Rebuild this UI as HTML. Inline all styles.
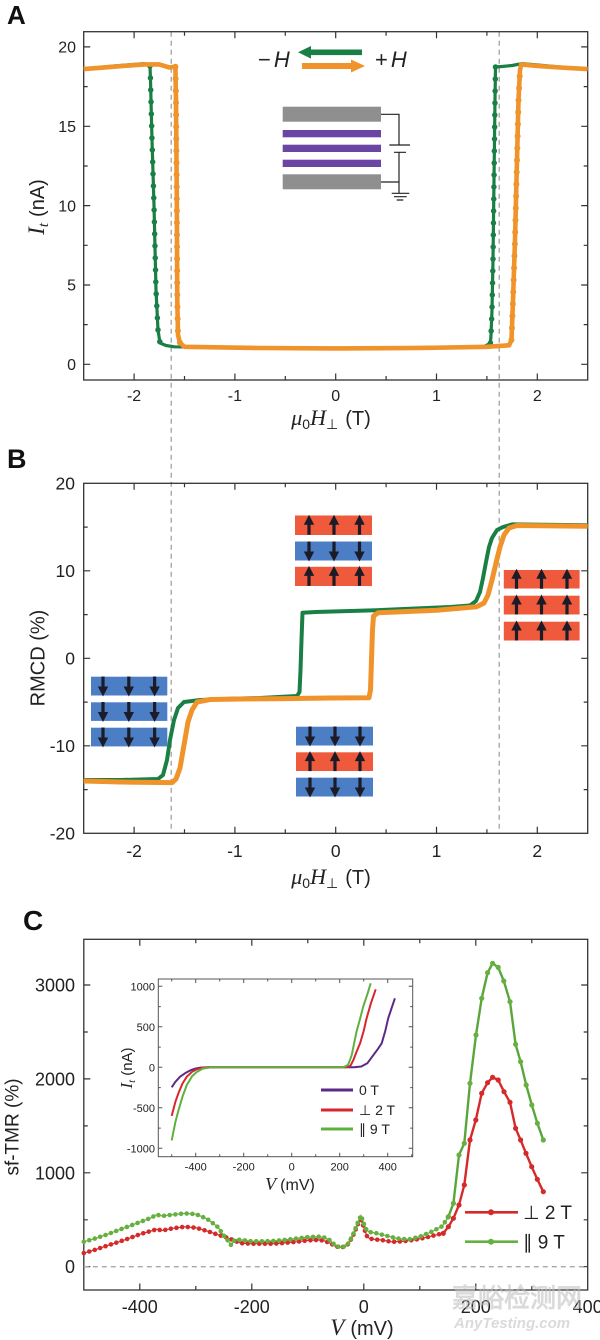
<!DOCTYPE html>
<html><head><meta charset="utf-8"><style>
html,body{margin:0;padding:0;background:#fff;}
svg{display:block;}
text{font-family:"Liberation Sans","DejaVu Sans",sans-serif;fill:#222;}
</style></head><body>
<svg width="600" height="1340" viewBox="0 0 600 1340" xmlns="http://www.w3.org/2000/svg">
<defs>
<g id="au"><rect x="-1.6" y="-2" width="3.2" height="11.5" fill="#1c1c28"/><polygon points="0,-10.5 -5.2,-0.5 5.2,-0.5" fill="#1c1c28"/></g>
</defs>
<rect width="600" height="1340" fill="#fff"/>

<!-- dashed vertical guides -->
<path d="M171.2,31.7 V833.3 M499.2,31.7 V833.3" stroke="#9a9a9a" stroke-width="1.2" stroke-dasharray="5 4" fill="none"/>

<!-- ================= PANEL A ================= -->
<text x="7" y="24" font-size="26" font-weight="bold" style="fill:#111">A</text>
<rect x="83.7" y="31.7" width="504" height="348.3" fill="none" stroke="#333" stroke-width="1.3"/>
<path d="M83.7,364.3h6.5M83.7,285h6.5M83.7,205.6h6.5M83.7,126.3h6.5M83.7,46.9h6.5M83.7,324.6h4M83.7,245.3h4M83.7,166h4M83.7,86.6h4
M587.7,364.3h-6.5M587.7,285h-6.5M587.7,205.6h-6.5M587.7,126.3h-6.5M587.7,46.9h-6.5M587.7,324.6h-4M587.7,245.3h-4M587.7,166h-4M587.7,86.6h-4
M134.1,380v-6.5M234.9,380v-6.5M335.7,380v-6.5M436.5,380v-6.5M537.3,380v-6.5M184.5,380v-4M285.3,380v-4M386.1,380v-4M486.9,380v-4
M134.1,31.7v6.5M234.9,31.7v6.5M335.7,31.7v6.5M436.5,31.7v6.5M537.3,31.7v6.5M184.5,31.7v4M285.3,31.7v4M386.1,31.7v4M486.9,31.7v4" stroke="#333" stroke-width="1.2"/>
<g font-size="16" text-anchor="end">
<text x="76" y="370">0</text><text x="76" y="290.7">5</text><text x="76" y="211.3">10</text><text x="76" y="132">15</text><text x="76" y="52.6">20</text>
</g>
<g font-size="16" text-anchor="middle">
<text x="134.1" y="401">-2</text><text x="234.9" y="401">-1</text><text x="335.7" y="401">0</text><text x="436.5" y="401">1</text><text x="537.3" y="401">2</text>
</g>
<text x="331" y="425" text-anchor="middle" font-size="20"><tspan font-family="Liberation Serif" font-style="italic" font-size="22">μ</tspan><tspan font-size="14" dy="4">0</tspan><tspan font-family="Liberation Serif" font-style="italic" font-size="22" dy="-4">H</tspan><tspan font-size="14" dy="4">⊥</tspan><tspan dy="-4" dx="7">(T)</tspan></text>
<text transform="translate(44,207) rotate(-90)" text-anchor="middle" font-size="20"><tspan font-family="Liberation Serif" font-style="italic" font-size="23">I</tspan><tspan font-family="Liberation Serif" font-style="italic" font-size="15" dy="4">t</tspan><tspan dy="-4" dx="6">(nA)</tspan></text>

<!-- A curves -->
<path d="M587.7,69.1 L560,67 L537.3,65 L522.2,63.6 L512.1,65.5 L502,66.5 L495.5,67 L495,100 L494,180 L493,260 L492,310 L491,335 L490.4,343.3 L484,346.5 L476.8,346.8 L335.7,348.4 L174.4,346.8 L166,345.5 L160,343 L158,330 L156,290 L154,205 L152,140 L150.5,80 L150,66 L144.2,63.6 L113.9,66 L83.7,69.1" fill="none" stroke="#1a7f45" stroke-width="3.2" stroke-linejoin="round"/>
<path d="M150,66 L150.5,80 L152,140 L154,205 L156,290 L158,330 L160,343 L166,345.5 M495.5,67 L495,100 L494,180 L493,260 L492,310 L491,335 L490.4,343.3" fill="none" stroke="#1a7f45" stroke-width="5.5" stroke-linecap="round" stroke-dasharray="0 12"/>
<path d="M83.7,69.1 L113.9,66.7 L144.2,64.4 L159.3,64.4 L169.4,67.5 L175.4,66.7 L176,100 L176.8,200 L177.3,300 L178,335 L180,343 L184.5,346.8 L260,348 L335.7,348.4 L420,348 L486.9,346.8 L509.1,345.3 L511.5,340 L513,300 L515,240 L517,160 L518.5,100 L520,70 L521.2,64.4 L537.3,66 L560,67.5 L587.7,69.1" fill="none" stroke="#f0932b" stroke-width="4.6" stroke-linejoin="round"/>
<path d="M175.4,66.7 L176,100 L176.8,200 L177.3,300 L178,335 L180,343 M511.5,340 L513,300 L515,240 L517,160 L518.5,100 L520,70" fill="none" stroke="#f0932b" stroke-width="6" stroke-linecap="round" stroke-dasharray="0 12"/>

<!-- A legend arrows -->
<text x="258" y="67" font-family="Liberation Serif" font-size="22" style="fill:#222">−<tspan font-style="italic" dx="3">H</tspan></text>
<text x="375" y="67" font-family="Liberation Serif" font-size="22" style="fill:#222">+<tspan font-style="italic" dx="3">H</tspan></text>
<rect x="309" y="49.5" width="53" height="5.6" fill="#1a7f45"/>
<polygon points="298,52.3 311,46 311,58.6" fill="#1a7f45"/>
<rect x="302" y="63" width="50" height="6" fill="#f0932b"/>
<polygon points="365,66 351,59.5 351,72.5" fill="#f0932b"/>
<!-- schematic -->
<rect x="282.7" y="106.7" width="98.3" height="15" fill="#8f8f8f"/>
<rect x="282.7" y="130" width="98.3" height="7.3" fill="#6a45a3"/>
<rect x="282.7" y="144.7" width="98.3" height="7.3" fill="#6a45a3"/>
<rect x="282.7" y="159.7" width="98.3" height="7.3" fill="#6a45a3"/>
<rect x="282.7" y="174.3" width="98.3" height="15" fill="#8f8f8f"/>
<path d="M381,114.3H399V145M389.3,145H410M394,152.3H406M399,152.3V193.3M381,182H399M391.7,193.3H409.3M394,196.7H406.7M396.7,200H403.3" stroke="#222" stroke-width="1.2" fill="none"/>

<!-- ================= PANEL B ================= -->
<text x="7" y="468" font-size="27" font-weight="bold" style="fill:#111">B</text>
<rect x="83.7" y="483.3" width="504" height="350" fill="none" stroke="#333" stroke-width="1.3"/>
<path d="M83.7,745.8h6.5M83.7,658.3h6.5M83.7,570.8h6.5M83.7,789.6h4M83.7,702.1h4M83.7,614.6h4M83.7,527.1h4
M587.7,745.8h-6.5M587.7,658.3h-6.5M587.7,570.8h-6.5M587.7,789.6h-4M587.7,702.1h-4M587.7,614.6h-4M587.7,527.1h-4
M134.1,833.3v-6.5M234.9,833.3v-6.5M335.7,833.3v-6.5M436.5,833.3v-6.5M537.3,833.3v-6.5M184.5,833.3v-4M285.3,833.3v-4M386.1,833.3v-4M486.9,833.3v-4
M134.1,483.3v6.5M234.9,483.3v6.5M335.7,483.3v6.5M436.5,483.3v6.5M537.3,483.3v6.5M184.5,483.3v4M285.3,483.3v4M386.1,483.3v4M486.9,483.3v4" stroke="#333" stroke-width="1.2"/>
<g font-size="17.5" text-anchor="end">
<text x="75" y="489.5">20</text><text x="75" y="577">10</text><text x="75" y="664.5">0</text><text x="75" y="752">-10</text><text x="75" y="839.5">-20</text>
</g>
<g font-size="17.5" text-anchor="middle">
<text x="134.1" y="857">-2</text><text x="234.9" y="857">-1</text><text x="335.7" y="857">0</text><text x="436.5" y="857">1</text><text x="537.3" y="857">2</text>
</g>
<text x="331" y="884" text-anchor="middle" font-size="20"><tspan font-family="Liberation Serif" font-style="italic" font-size="22">μ</tspan><tspan font-size="14" dy="4">0</tspan><tspan font-family="Liberation Serif" font-style="italic" font-size="22" dy="-4">H</tspan><tspan font-size="14" dy="4">⊥</tspan><tspan dy="-4" dx="7">(T)</tspan></text>
<text transform="translate(44.5,658) rotate(-90)" text-anchor="middle" font-size="20">RMCD (%)</text>

<!-- B curves -->
<path d="M587.7,525.3 L512.1,524.4 L503,527 L497,530 L492,538 L489,547 L486,562 L483,578 L480,592 L476,601 L470,605.5 L450,607 L376,610.2 L315.5,612 L302.5,612.8 L301.5,640 L300.5,670 L299.5,692 L297,696 L260,698 L234.9,698.6 L200,700 L184,702 L178,708 L174,720 L170,740 L167,760 L163,775 L158,779 L120,780 L83.7,780" fill="none" stroke="#1a7f45" stroke-width="4" stroke-linejoin="round"/>
<path d="M83.7,781 L120,782 L160,782.5 L172,782.6 L176,779 L180,768 L184,745 L188,722 L192,710 L197,702 L210,699.5 L240,699 L285,698.6 L330,698 L369,697.7 L370.5,690 L371.5,660 L372.5,630 L373.5,616 L378,612.8 L436.5,610.2 L476.8,606.7 L484,603 L488,595 L492,580 L496,563 L500,547 L504,535 L509,528 L517,525.5 L587.7,526.2" fill="none" stroke="#f0932b" stroke-width="5" stroke-linejoin="round"/>

<!-- spin boxes: middle top -->
<rect x="295" y="515.5" width="77" height="19.5" fill="#ef5a3d"/>
<rect x="295" y="541.5" width="77" height="19" fill="#4b7ec5"/>
<rect x="295" y="566.8" width="77" height="19.2" fill="#ef5a3d"/>
<use href="#au" transform="translate(309,525.3)"/><use href="#au" transform="translate(334,525.3)"/><use href="#au" transform="translate(359.5,525.3)"/>
<use href="#au" transform="translate(309,551) scale(1,-1)"/><use href="#au" transform="translate(334,551) scale(1,-1)"/><use href="#au" transform="translate(359.5,551) scale(1,-1)"/>
<use href="#au" transform="translate(309,576.4)"/><use href="#au" transform="translate(334,576.4)"/><use href="#au" transform="translate(359.5,576.4)"/>
<!-- middle bottom -->
<rect x="296" y="726.7" width="77" height="18.8" fill="#4b7ec5"/>
<rect x="296" y="752.3" width="77" height="18.7" fill="#ef5a3d"/>
<rect x="296" y="777.7" width="77" height="18.8" fill="#4b7ec5"/>
<use href="#au" transform="translate(310,736) scale(1,-1)"/><use href="#au" transform="translate(335,736) scale(1,-1)"/><use href="#au" transform="translate(360,736) scale(1,-1)"/>
<use href="#au" transform="translate(310,761.6)"/><use href="#au" transform="translate(335,761.6)"/><use href="#au" transform="translate(360,761.6)"/>
<use href="#au" transform="translate(310,787) scale(1,-1)"/><use href="#au" transform="translate(335,787) scale(1,-1)"/><use href="#au" transform="translate(360,787) scale(1,-1)"/>
<!-- left -->
<rect x="91" y="676.7" width="76.3" height="18.8" fill="#4b7ec5"/>
<rect x="91" y="702.3" width="76.3" height="18.6" fill="#4b7ec5"/>
<rect x="91" y="727.7" width="76.3" height="18.7" fill="#4b7ec5"/>
<use href="#au" transform="translate(103,686) scale(1,-1)"/><use href="#au" transform="translate(128.8,686) scale(1,-1)"/><use href="#au" transform="translate(154.6,686) scale(1,-1)"/>
<use href="#au" transform="translate(103,711.5) scale(1,-1)"/><use href="#au" transform="translate(128.8,711.5) scale(1,-1)"/><use href="#au" transform="translate(154.6,711.5) scale(1,-1)"/>
<use href="#au" transform="translate(103,737) scale(1,-1)"/><use href="#au" transform="translate(128.8,737) scale(1,-1)"/><use href="#au" transform="translate(154.6,737) scale(1,-1)"/>
<!-- right -->
<rect x="503.8" y="570" width="75.8" height="18.5" fill="#ef5a3d"/>
<rect x="503.8" y="595.7" width="75.8" height="18.8" fill="#ef5a3d"/>
<rect x="503.8" y="621.7" width="75.8" height="18.8" fill="#ef5a3d"/>
<use href="#au" transform="translate(516.5,579.3)"/><use href="#au" transform="translate(541.5,579.3)"/><use href="#au" transform="translate(567,579.3)"/>
<use href="#au" transform="translate(516.5,605)"/><use href="#au" transform="translate(541.5,605)"/><use href="#au" transform="translate(567,605)"/>
<use href="#au" transform="translate(516.5,631)"/><use href="#au" transform="translate(541.5,631)"/><use href="#au" transform="translate(567,631)"/>

<!-- ================= PANEL C ================= -->
<text x="23" y="930" font-size="28" font-weight="bold" style="fill:#111">C</text>
<rect x="83.8" y="939.3" width="503.9" height="350.7" fill="none" stroke="#333" stroke-width="1.3"/>
<path d="M83.8,1172.8h6.5M83.8,1078.9h6.5M83.8,985h6.5M83.8,1266.7h6.5M83.8,1219.8h4M83.8,1125.9h4M83.8,1032h4
M587.7,1172.8h-6.5M587.7,1078.9h-6.5M587.7,985h-6.5M587.7,1266.7h-6.5M587.7,1219.8h-4M587.7,1125.9h-4M587.7,1032h-4
M139.8,1290v-6.5M251.8,1290v-6.5M363.8,1290v-6.5M475.8,1290v-6.5M195.8,1290v-4M307.8,1290v-4M419.8,1290v-4M531.8,1290v-4
M139.8,939.3v6.5M251.8,939.3v6.5M363.8,939.3v6.5M475.8,939.3v6.5M195.8,939.3v4M307.8,939.3v4M419.8,939.3v4M531.8,939.3v4" stroke="#333" stroke-width="1.2"/>
<g font-size="18" text-anchor="end">
<text x="75" y="991.5">3000</text><text x="75" y="1085.4">2000</text><text x="75" y="1179.3">1000</text><text x="75" y="1273.2">0</text>
</g>
<g font-size="18" text-anchor="middle">
<text x="139.8" y="1313">-400</text><text x="251.8" y="1313">-200</text><text x="363.8" y="1313">0</text><text x="475.8" y="1313">200</text><text x="587.7" y="1313">400</text>
</g>
<text x="362" y="1335" text-anchor="middle" font-size="20"><tspan font-family="Liberation Serif" font-style="italic" font-size="23">V</tspan><tspan dx="6">(mV)</tspan></text>
<text transform="translate(18.5,1127) rotate(-90)" text-anchor="middle" font-size="19">sf-TMR (%)</text>
<path d="M83.8,1266.7H587.7" stroke="#a8a8a8" stroke-width="1.3" stroke-dasharray="5 4"/>

<!-- C red -->
<polyline points="83.8,1253.1 95,1249.8 106.2,1246 117.4,1242.3 128.6,1238.5 139.8,1234.3 151,1231 156.6,1229.3 162.2,1230.5 173.4,1228.2 184.6,1226.8 195.8,1227.7 207,1231 218.2,1234.8 229.4,1238.5 240.6,1243.2 251.8,1243.7 263,1243.7 274.2,1243.7 285.4,1242.8 296.6,1241.8 307.8,1240.4 319,1239.9 324.6,1240.9 330.2,1243.2 335.8,1246.5 341.4,1247.5 347,1245.6 352.6,1236.7 358.2,1223.5 361,1219.7 363.8,1227.3 366.6,1235.7 369.4,1238.5 375,1239.5 380.6,1239.9 391.8,1241.8 403,1241.3 414.2,1239.9 425.4,1237.6 436.6,1234.8 443.3,1233.3" fill="none" stroke="#d42a2a" stroke-width="1.2"/>
<polyline points="83.8,1253.1 95,1249.8 106.2,1246 117.4,1242.3 128.6,1238.5 139.8,1234.3 151,1231 156.6,1229.3 162.2,1230.5 173.4,1228.2 184.6,1226.8 195.8,1227.7 207,1231 218.2,1234.8 229.4,1238.5 240.6,1243.2 251.8,1243.7 263,1243.7 274.2,1243.7 285.4,1242.8 296.6,1241.8 307.8,1240.4 319,1239.9 324.6,1240.9 330.2,1243.2 335.8,1246.5 341.4,1247.5 347,1245.6 352.6,1236.7 358.2,1223.5 361,1219.7 363.8,1227.3 366.6,1235.7 369.4,1238.5 375,1239.5 380.6,1239.9 391.8,1241.8 403,1241.3 414.2,1239.9 425.4,1237.6 436.6,1234.8 443.3,1233.3" fill="none" stroke="#d42a2a" stroke-width="4.6" stroke-linecap="round" stroke-dasharray="0 5.7"/>
<polyline points="443.3,1233.3 448.4,1226.7 453.4,1218.3 459,1205 464.3,1185 470,1140 475.8,1120 481.7,1093.3 487.6,1082.7 492.6,1077.3 498.2,1080 504,1091.7 510,1102.3 515.6,1128.3 520.6,1140 526,1153.3 531.7,1166.7 537.3,1179.3 543.3,1191.7" fill="none" stroke="#d42a2a" stroke-width="2.4" stroke-linejoin="round"/>
<g fill="#d42a2a">
<circle cx="443.3" cy="1233.3" r="2.6"/><circle cx="448.4" cy="1226.7" r="2.6"/><circle cx="453.4" cy="1218.3" r="2.6"/><circle cx="459" cy="1205" r="2.6"/><circle cx="464.3" cy="1185" r="2.6"/><circle cx="470" cy="1140" r="2.6"/><circle cx="475.8" cy="1120" r="2.6"/><circle cx="481.7" cy="1093.3" r="2.6"/><circle cx="487.6" cy="1082.7" r="2.6"/><circle cx="492.6" cy="1077.3" r="2.6"/><circle cx="498.2" cy="1080" r="2.6"/><circle cx="504" cy="1091.7" r="2.6"/><circle cx="510" cy="1102.3" r="2.6"/><circle cx="515.6" cy="1128.3" r="2.6"/><circle cx="520.6" cy="1140" r="2.6"/><circle cx="526" cy="1153.3" r="2.6"/><circle cx="531.7" cy="1166.7" r="2.6"/><circle cx="537.3" cy="1179.3" r="2.6"/><circle cx="543.3" cy="1191.7" r="2.6"/>
</g>
<!-- C green -->
<polyline points="83.8,1241.8 95,1238.5 106.2,1234.8 117.4,1230.5 128.6,1226.3 139.8,1222.1 151,1217.9 156.6,1214.6 162.2,1216 173.4,1214.6 184.6,1213.4 195.8,1214.1 207,1218.8 218.2,1227.3 223.8,1235.7 229.4,1242.3 231.1,1245.1 235,1239.5 240.6,1239.9 251.8,1241.3 263,1241.3 274.2,1240.9 285.4,1239.9 296.6,1238.5 307.8,1237.1 319,1236.7 324.6,1237.6 330.2,1240.4 335.8,1246 341.4,1247.5 347,1245.6 352.6,1235.7 358.2,1221.6 361,1215.5 363.8,1223.5 366.6,1230.1 369.4,1232 375,1232.9 380.6,1234.3 386.2,1235.7 397.4,1238.5 408.6,1239.5 419.8,1236.7 431,1232 442.2,1226.3 448.4,1216.7" fill="none" stroke="#66b040" stroke-width="1.2"/>
<polyline points="83.8,1241.8 95,1238.5 106.2,1234.8 117.4,1230.5 128.6,1226.3 139.8,1222.1 151,1217.9 156.6,1214.6 162.2,1216 173.4,1214.6 184.6,1213.4 195.8,1214.1 207,1218.8 218.2,1227.3 223.8,1235.7 229.4,1242.3 231.1,1245.1 235,1239.5 240.6,1239.9 251.8,1241.3 263,1241.3 274.2,1240.9 285.4,1239.9 296.6,1238.5 307.8,1237.1 319,1236.7 324.6,1237.6 330.2,1240.4 335.8,1246 341.4,1247.5 347,1245.6 352.6,1235.7 358.2,1221.6 361,1215.5 363.8,1223.5 366.6,1230.1 369.4,1232 375,1232.9 380.6,1234.3 386.2,1235.7 397.4,1238.5 408.6,1239.5 419.8,1236.7 431,1232 442.2,1226.3 448.4,1216.7" fill="none" stroke="#66b040" stroke-width="4.6" stroke-linecap="round" stroke-dasharray="0 5.7"/>
<polyline points="448.4,1216.7 453.4,1203.3 459,1155 464.3,1143.3 470,1083.3 476,1035 481.7,998.3 487.6,972.7 492.6,963.3 498.2,967.4 503.8,981 510,1001.7 515.6,1044.3 520.6,1061.7 526.2,1085 531.8,1105 537.4,1123.3 543.3,1140" fill="none" stroke="#5ba63c" stroke-width="2.4" stroke-linejoin="round"/>
<g fill="#66b040">
<circle cx="448.4" cy="1216.7" r="2.6"/><circle cx="453.4" cy="1203.3" r="2.6"/><circle cx="459" cy="1155" r="2.6"/><circle cx="464.3" cy="1143.3" r="2.6"/><circle cx="470" cy="1083.3" r="2.6"/><circle cx="476" cy="1035" r="2.6"/><circle cx="481.7" cy="998.3" r="2.6"/><circle cx="487.6" cy="972.7" r="2.6"/><circle cx="492.6" cy="963.3" r="2.6"/><circle cx="498.2" cy="967.4" r="2.6"/><circle cx="503.8" cy="981" r="2.6"/><circle cx="510" cy="1001.7" r="2.6"/><circle cx="515.6" cy="1044.3" r="2.6"/><circle cx="520.6" cy="1061.7" r="2.6"/><circle cx="526.2" cy="1085" r="2.6"/><circle cx="531.8" cy="1105" r="2.6"/><circle cx="537.4" cy="1123.3" r="2.6"/><circle cx="543.3" cy="1140" r="2.6"/>
</g>

<!-- C legend -->
<path d="M465,1212.3H518" stroke="#d42a2a" stroke-width="2.6"/><circle cx="491" cy="1212.3" r="3" fill="#d42a2a"/>
<text x="523" y="1219" font-size="19">⊥ 2 T</text>
<path d="M465,1241.7H518" stroke="#66b040" stroke-width="2.6"/><circle cx="491" cy="1241.7" r="3" fill="#66b040"/>
<text x="523" y="1248.5" font-size="19">∥ 9 T</text>

<!-- Inset -->
<rect x="158.3" y="979" width="254.4" height="177.7" fill="#fff" stroke="#555" stroke-width="1"/>
<path d="M195.7,1156.7v-4M243.7,1156.7v-4M291.7,1156.7v-4M339.7,1156.7v-4M387.7,1156.7v-4M171.7,1156.7v-2.5M219.7,1156.7v-2.5M267.7,1156.7v-2.5M315.7,1156.7v-2.5M363.7,1156.7v-2.5M411.7,1156.7v-2.5
M195.7,979v4M243.7,979v4M291.7,979v4M339.7,979v4M387.7,979v4M171.7,979v2.5M219.7,979v2.5M267.7,979v2.5M315.7,979v2.5M363.7,979v2.5
M158.3,986.3h4M158.3,1026.8h4M158.3,1067.3h4M158.3,1107.8h4M158.3,1148.3h4M158.3,1006.6h2.5M158.3,1047.1h2.5M158.3,1087.6h2.5M158.3,1128.1h2.5
M412.7,986.3h-4M412.7,1026.8h-4M412.7,1067.3h-4M412.7,1107.8h-4M412.7,1148.3h-4M412.7,1006.6h-2.5M412.7,1047.1h-2.5M412.7,1087.6h-2.5M412.7,1128.1h-2.5" stroke="#555" stroke-width="1"/>
<g font-size="11" text-anchor="end" style="fill:#333">
<text x="155" y="990.3">1000</text><text x="155" y="1030.8">500</text><text x="155" y="1071.3">0</text><text x="155" y="1111.8">-500</text><text x="155" y="1152.3">-1000</text>
</g>
<g font-size="11" text-anchor="middle" style="fill:#333">
<text x="195.7" y="1170.5">-400</text><text x="243.7" y="1170.5">-200</text><text x="291.7" y="1170.5">0</text><text x="339.7" y="1170.5">200</text><text x="387.7" y="1170.5">400</text>
</g>
<text x="290" y="1190" text-anchor="middle" font-size="16"><tspan font-family="Liberation Serif" font-style="italic" font-size="18">V</tspan><tspan dx="4">(mV)</tspan></text>
<text transform="translate(132,1068) rotate(-90)" text-anchor="middle" font-size="15"><tspan font-family="Liberation Serif" font-style="italic" font-size="17">I</tspan><tspan font-family="Liberation Serif" font-style="italic" font-size="11" dy="3">t</tspan><tspan dy="-3" dx="4">(nA)</tspan></text>
<polyline points="171.7,1087.3 175.3,1081.9 180.1,1076.7 186.1,1072.6 190.9,1070.1 195.7,1068.5 200.5,1067.6 207.7,1067.3 354.1,1067.3 361.3,1066.5 367.3,1063.3 373.3,1055.2 378.1,1048.7 381.7,1043.3 385.3,1030.9 388.2,1018.3 391.3,1009 394.9,998.3" fill="none" stroke="#5b2a86" stroke-width="2" stroke-linejoin="round"/>
<polyline points="171.7,1115.9 175.3,1102.1 178.4,1093.3 182.5,1083.5 186.8,1076.7 192.1,1071.8 196.7,1069.3 202.9,1067.7 210.1,1067.3 345.7,1067.3 350.5,1065.7 353.4,1060 356.5,1051.9 360.1,1043.3 363.7,1030.9 366.6,1018.3 370.9,1003.3 375.7,989.3" fill="none" stroke="#d8262e" stroke-width="2" stroke-linejoin="round"/>
<polyline points="171.7,1140.4 175.3,1122.4 178.4,1110.6 182.5,1096.7 186.8,1085 192.1,1076.2 196.7,1072 202.9,1068.5 212.5,1067.3 343.3,1067.3 348.1,1064.9 351.7,1055.2 356.5,1031.7 360.1,1018.7 363.2,1006.7 367.3,994.4 370.7,983.3" fill="none" stroke="#5fb03e" stroke-width="2" stroke-linejoin="round"/>
<path d="M321,1090H353" stroke="#5b2a86" stroke-width="3"/>
<path d="M321,1110H353" stroke="#d8262e" stroke-width="3"/>
<path d="M321,1129H353" stroke="#5fb03e" stroke-width="3"/>
<g font-size="14">
<text x="359" y="1095">0 T</text><text x="359" y="1115">⊥ 2 T</text><text x="359" y="1134">∥ 9 T</text>
</g>

<!-- watermark -->
<g opacity="0.55">
<text x="452" y="1307" font-family="Liberation Sans, Noto Sans CJK SC, sans-serif" font-size="26" font-weight="bold" style="fill:#bdbdbd">嘉峪检测网</text>
<text x="454" y="1328" font-size="15" font-weight="bold" font-style="italic" style="fill:#bdbdbd">AnyTesting.com</text>
</g>
</svg>
</body></html>
